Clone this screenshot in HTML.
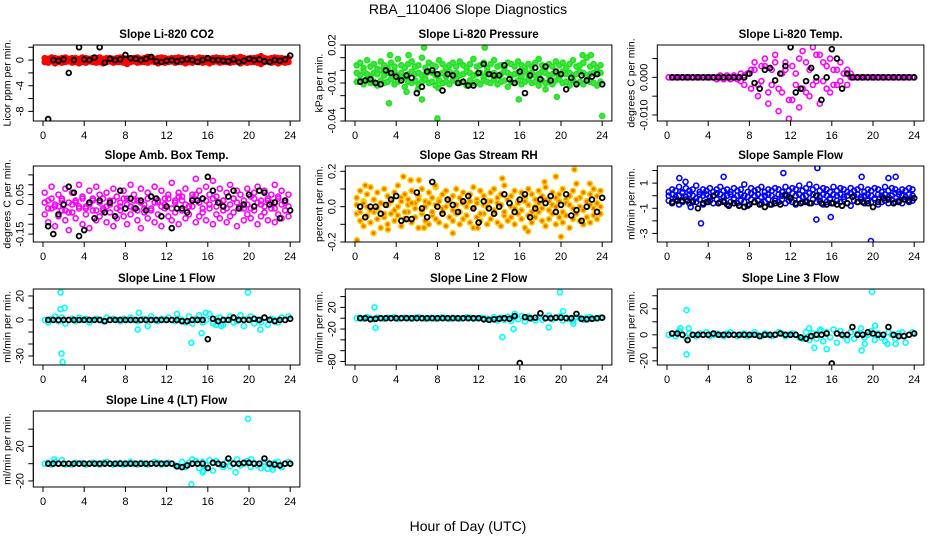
<!DOCTYPE html>
<html><head><meta charset="utf-8"><style>
html,body{margin:0;padding:0;background:#fff;}
svg{display:block;font-family:"Liberation Sans",sans-serif;}
</style></head><body>
<svg id="chart" width="936" height="540" viewBox="0 0 936 540">
<text x="468" y="14" font-size="14" text-anchor="middle">RBA_110406  Slope Diagnostics</text>
<text x="468" y="531" font-size="14" text-anchor="middle">Hour of Day (UTC)</text>
</svg>
<script>
// ---- data ----
const co2Hi=[0.3,0.2,0.4,0.3,0.2,0.3,0.4,0.2,0.3,0.3,0.2,0.4,0.3,0.2,0.3,0.3,0.4,0.2,0.3,0.3,0.2,0.3,0.4,0.3,0.2,0.3,0.3,0.4,0.2,0.3,0.5,0.3,0.2,0.3,0.4,0.3,0.2,0.3,0.3,0.4,0.3,0.2,0.3,0.3,0.2,0.4,0.3,0.3,0.2,0.3,0.4,0.3,0.3,0.2,0.3,0.4,0.3,0.5,0.3,0.2,0.3,0.3,0.4,0.6,0.3,0.2,0.3,0.4,0.3,0.3,0.2,0.3];
const co2Lo=[-0.3,-0.4,-0.2,-0.5,-0.3,-0.4,-0.3,-0.2,-0.4,-0.3,-0.5,-0.3,-0.4,-0.2,-0.3,-0.4,-0.3,-0.5,-0.3,-0.2,-0.4,-0.3,-0.3,-0.4,-0.6,-0.3,-0.2,-0.4,-0.3,-0.3,-0.4,-0.2,-0.3,-0.5,-0.3,-0.4,-0.3,-0.2,-0.4,-0.3,-0.3,-0.5,-0.3,-0.4,-0.2,-0.3,-0.4,-0.3,-0.5,-0.3,-0.2,-0.4,-0.3,-0.3,-0.4,-0.3,-0.2,-0.5,-0.3,-0.4,-0.3,-0.3,-0.4,-0.6,-0.3,-0.2,-0.4,-0.3,-0.5,-0.3,-0.4,-0.3];
const co2Black=[-9.2,0.0,-0.1,0.1,-2.0,0.0,2.0,0.1,0.0,0.4,2.0,-0.4,0.2,0.0,0.1,0.8,0.3,0.2,0.0,0.2,0.5,-0.2,-0.3,-0.1,0.0,-0.2,0.0,0.1,0.0,-0.3,0.0,0.3,0.0,0.0,-0.1,-0.2,0.1,-0.3,-0.1,0.2,0.0,0.1,-0.2,-0.3,0.0,-0.1,0.1,0.7];

const prHi=[0.004,0.006,0.002,0.008,0.003,0.005,0.001,0.007,0.004,0.002,0.006,0.003,0.009,0.004,0.002,0.005,0.007,0.003,0.004,0.010,0.002,0.006,0.004,0.003,0.008,0.005,0.002,0.004,0.006,0.003,0.007,0.004,0.002,0.005,0.009,0.003,0.004,0.006,0.002,0.005,0.008,0.003,0.004,0.002,0.006,0.005,0.003,0.007,0.004,0.002,0.005,0.003,0.006,0.009,0.004,0.002,0.005,0.003,0.007,0.004,0.006,0.002,0.005,0.008,0.003,0.004,0.006,0.010,0.003,0.005,0.002,0.004];
const prMid=[-0.002,-0.004,-0.001,-0.003,-0.005,-0.002,-0.003,0.000,-0.004,-0.002,-0.003,-0.001,-0.004,-0.002,-0.005,-0.003,-0.001,-0.003,-0.002,-0.004,-0.003,-0.001,-0.002,-0.004,-0.003,-0.002,-0.005,-0.001,-0.003,-0.002,-0.004,-0.003,-0.001,-0.002,-0.004,-0.003,-0.002,-0.005,-0.001,-0.003,-0.002,-0.004,-0.003,-0.001,-0.002,-0.004,-0.003,-0.002,-0.005,-0.001,-0.003,-0.002,-0.004,-0.003,-0.001,-0.002,-0.004,-0.003,-0.002,-0.005,-0.001,-0.003,-0.002,-0.004,-0.003,-0.001,-0.002,-0.004,-0.003,-0.002,-0.003,-0.002];
const prLo=[-0.009,-0.008,-0.011,-0.007,-0.010,-0.009,-0.012,-0.008,-0.010,-0.009,-0.007,-0.011,-0.009,-0.008,-0.013,-0.009,-0.010,-0.008,-0.011,-0.009,-0.007,-0.010,-0.009,-0.012,-0.008,-0.010,-0.009,-0.011,-0.008,-0.007,-0.010,-0.009,-0.012,-0.008,-0.010,-0.009,-0.011,-0.008,-0.009,-0.010,-0.007,-0.011,-0.009,-0.008,-0.013,-0.009,-0.010,-0.008,-0.011,-0.009,-0.007,-0.010,-0.009,-0.012,-0.008,-0.010,-0.009,-0.011,-0.008,-0.007,-0.010,-0.009,-0.012,-0.008,-0.010,-0.009,-0.011,-0.008,-0.009,-0.010,-0.012,-0.009];
const prOutT=[3.3,8.0,24.0,6.7,12.6,3.4,5.2,6.5,15.9,19.6,22.1,22.9,5.0,6.1,8.1,18.5];
const prOutV=[-0.026,-0.038,-0.036,0.018,0.018,0.012,0.012,-0.023,-0.023,-0.021,0.012,0.012,-0.017,-0.015,-0.014,-0.015];
const prBlack=[-0.009,-0.008,-0.007,-0.010,-0.011,0,-0.002,-0.005,-0.008,-0.004,-0.006,-0.018,-0.013,-0.001,0,-0.003,-0.016,-0.003,-0.004,-0.010,-0.009,-0.012,-0.012,-0.002,0.005,-0.003,-0.004,-0.004,0.004,-0.007,-0.010,-0.001,-0.018,-0.004,0.002,-0.007,0.003,-0.008,-0.001,-0.003,-0.015,-0.006,-0.011,-0.004,-0.008,-0.005,-0.003,-0.011];

const tempA=[0,0,0,0,0,0,0,0,0,0,0,0,0,0,0,0,0,0,0,0,0,0.001,0.0005,0.001,0.002,0.004,-0.002,0.003,0.005,-0.004,0.002,0.006,-0.003,0.001,0.004,-0.006,0.003,-0.002,0.005,0.007,-0.004,0.002,0.008,-0.001,0.006,0.004,-0.003,0.005,0.002,-0.002,0.004,0.001,0.002,0.001,0,0,0,0,0,0,0,0,0,0,0,0,0,0,0,0,0,0];
const tempB=[0,0,0,0,0,0,0,0,0,0,0,0,0,0,-0.0005,0.0005,-0.0005,0.0005,-0.0005,0.0005,-0.0005,-0.001,-0.002,0.001,-0.003,0.002,-0.005,-0.001,0.003,-0.007,-0.002,0.004,-0.009,-0.004,0.002,-0.011,-0.006,0.001,-0.008,-0.003,0.004,-0.005,-0.002,0.006,-0.007,-0.001,0.003,-0.004,-0.002,0.002,-0.001,0.001,-0.002,0.000,0,0,0,0,0,0,0,0,0,0,0,0,0,0,0,0,0,0];
const tempBlack=[0,0,0,0,0,0,0,0,0,0,0,0,0,0,0,0.001,-0.0015,-0.003,0.002,0.0025,-0.0008,0.001,0.003,0.008,-0.004,-0.003,-0.001,0.0025,0.000,-0.006,0.000,0.0075,0.005,-0.003,0.001,0,0,0,0,0,0,0,0,0,0,0,0,0];

const ambA=[0.06,0.02,0.09,-0.01,0.05,0.03,0.08,-0.04,0.06,0.01,0.10,0.04,-0.02,0.07,0.03,0.09,0.05,-0.03,0.06,0.02,0.08,0.04,-0.01,0.07,0.03,0.10,0.05,0.02,0.08,-0.02,0.06,0.04,0.09,0.01,0.07,0.03,0.05,0.11,0.02,0.06,0.04,0.08,-0.01,0.05,0.13,0.07,0.03,0.09,0.05,0.12,0.04,0.08,0.02,0.06,0.10,0.03,0.07,0.05,-0.02,0.08,0.04,0.06,0.09,0.02,0.07,0.03,0.05,0.10,0.04,0.07,0.02,0.05];
const ambB=[-0.05,-0.09,-0.02,-0.11,-0.06,-0.03,-0.08,-0.13,-0.04,-0.07,-0.01,-0.10,-0.05,-0.12,-0.03,-0.08,-0.06,-0.02,-0.09,-0.04,-0.11,-0.07,-0.03,-0.06,-0.10,-0.05,-0.02,-0.08,-0.12,-0.04,-0.07,-0.03,-0.09,-0.05,-0.11,-0.02,-0.06,-0.08,-0.04,-0.10,-0.03,-0.07,-0.05,-0.01,-0.09,-0.06,-0.04,-0.08,-0.02,-0.10,-0.05,-0.07,-0.03,-0.09,-0.06,-0.04,-0.11,-0.02,-0.08,-0.05,-0.07,-0.03,-0.10,-0.06,-0.04,-0.08,-0.02,-0.09,-0.05,-0.07,-0.03,-0.06];
const ambC=[0.01,-0.02,0.03,0.00,-0.01,0.02,-0.03,0.01,0.00,0.02,-0.02,0.03,-0.01,0.00,0.02,-0.03,0.01,0.03,-0.01,0.00,0.02,-0.02,0.01,0.03,0.00,-0.01,0.02,-0.03,0.01,0.00,0.03,-0.02,0.01,0.02,-0.01,0.00,0.03,-0.02,0.01,0.04,0.02,0.00,-0.01,0.03,0.05,0.01,-0.02,0.02,0.00,0.03,-0.01,0.01,0.02,-0.02,0.00,0.03,0.01,-0.01,0.02,0.00,-0.02,0.03,0.01,0.00,-0.01,0.02,0.01,-0.02,0.03,0.00,0.01,-0.01];
const ambBlack=[-0.11,-0.15,-0.05,0.00,0.09,0.06,-0.16,-0.13,0.01,-0.07,0.02,-0.04,0.01,-0.06,0.07,-0.02,0.03,-0.02,0.02,-0.03,0.04,0.03,-0.06,-0.01,-0.12,-0.02,-0.02,-0.04,0.02,0.02,0.03,0.14,0.07,0.01,-0.01,0.04,0.07,-0.02,0.00,0.05,-0.01,0.07,0.06,0.00,0.01,-0.07,0.02,-0.03];

const rhA=[0.05,0.09,0.03,0.07,0.11,0.04,0.08,0.02,0.10,0.06,0.03,0.08,0.12,0.05,0.07,0.04,0.09,0.02,0.06,0.10,0.03,0.08,0.05,0.11,0.04,0.07,0.09,0.03,0.06,0.10,0.05,0.08,0.02,0.07,0.11,0.04,0.09,0.06,0.03,0.08,0.10,0.05,0.07,0.12,0.04,0.06,0.09,0.03,0.08,0.05,0.10,0.07,0.04,0.09,0.06,0.11,0.03,0.08,0.05,0.07,0.10,0.04,0.06,0.09,0.13,0.05,0.08,0.03,0.07,0.10,0.06,0.09];
const rhB=[-0.04,-0.08,-0.11,-0.05,-0.09,-0.03,-0.07,-0.12,-0.06,-0.10,-0.04,-0.08,-0.05,-0.11,-0.07,-0.03,-0.09,-0.06,-0.12,-0.04,-0.08,-0.10,-0.05,-0.07,-0.09,-0.03,-0.11,-0.06,-0.08,-0.04,-0.10,-0.07,-0.05,-0.09,-0.12,-0.06,-0.08,-0.04,-0.10,-0.07,-0.03,-0.09,-0.11,-0.05,-0.08,-0.06,-0.10,-0.04,-0.07,-0.12,-0.05,-0.09,-0.06,-0.03,-0.08,-0.11,-0.07,-0.04,-0.10,-0.06,-0.09,-0.05,-0.12,-0.07,-0.04,-0.08,-0.10,-0.06,-0.09,-0.05,-0.07,-0.04];
const rhC=[0.01,-0.03,0.02,0.00,-0.02,0.04,-0.01,0.02,-0.04,0.01,0.03,-0.02,0.00,0.03,-0.03,0.01,0.02,-0.01,0.04,-0.02,0.00,0.02,-0.03,0.01,0.03,-0.01,0.00,0.04,-0.02,0.01,-0.03,0.02,0.00,0.03,-0.01,0.02,-0.04,0.01,0.00,0.03,-0.02,0.02,0.01,-0.03,0.04,0.00,-0.01,0.02,-0.02,0.03,0.01,-0.03,0.00,0.02,-0.01,0.04,-0.02,0.01,0.00,0.03,-0.03,0.02,0.01,-0.01,0.04,0.00,-0.02,0.03,0.01,-0.01,0.02,0.00];
const rhOutT=[0.2,1.0,1.8,4.7,5.4,6.2,6.7,7.8,9.5,14.3,16.8,18.4,19.5,20.0,21.3,22.8,3.2,11.9];
const rhOutV=[-0.19,0.12,-0.15,0.17,0.15,0.15,-0.12,0.12,-0.15,0.16,-0.14,0.14,0.17,-0.17,0.21,0.13,-0.13,-0.12];
const rhBlack=[0.00,-0.06,0.00,0.00,-0.04,0.01,0.04,0.06,-0.08,-0.07,-0.07,0.08,-0.01,-0.06,0.14,0.00,-0.04,0.04,0.01,-0.03,0.03,0.06,-0.01,-0.09,0.03,-0.01,-0.04,0.00,0.07,0.02,-0.03,0.04,0.07,-0.06,-0.01,0.04,0.02,0.06,-0.03,0.01,0.07,-0.05,-0.02,-0.08,0.00,0.04,-0.03,0.05];

const sfA=[0.3,0.5,0.4,0.7,0.3,0.6,0.4,0.5,0.8,0.3,0.5,0.4,0.6,0.3,0.5,0.7,0.4,0.5,0.3,0.6,0.4,0.5,0.9,0.3,0.6,0.4,0.5,0.7,0.3,0.5,0.4,0.6,0.5,0.3,0.7,0.4,0.6,0.5,0.8,0.4,0.6,0.9,0.5,0.7,0.4,0.6,0.5,0.3,0.7,0.4,0.6,0.5,0.3,0.6,0.4,0.5,0.7,0.3,0.5,0.4,0.6,0.5,0.3,0.7,0.4,0.6,0.5,0.3,0.5,0.4,0.6,0.5];
const sfB=[-0.4,-0.6,-0.3,-0.7,-0.5,-0.3,-0.6,-0.4,-0.5,-0.3,-0.7,-0.5,-0.4,-0.6,-0.3,-0.5,-0.4,-0.7,-0.5,-0.3,-0.6,-0.4,-0.5,-0.8,-0.3,-0.5,-0.4,-0.6,-0.5,-0.3,-0.7,-0.4,-0.5,-0.3,-0.6,-0.4,-0.5,-0.7,-0.3,-0.5,-0.4,-0.6,-0.3,-0.5,-0.4,-0.7,-0.5,-0.3,-0.6,-0.4,-0.5,-0.3,-0.6,-0.8,-0.4,-0.5,-0.3,-0.6,-0.4,-0.5,-0.3,-0.7,-0.5,-0.4,-0.6,-0.3,-0.5,-0.4,-0.6,-0.3,-0.5,-0.4];
const sfC=[0.0,0.1,-0.1,0.0,0.2,-0.1,0.1,0.0,-0.2,0.1,0.0,0.1,-0.1,0.0,0.2,0.1,-0.1,0.0,0.1,-0.2,0.0,0.1,0.0,-0.1,0.2,0.0,0.1,-0.1,0.0,0.1,0.0,-0.2,0.1,0.0,0.1,-0.1,0.2,0.0,0.1,-0.1,0.0,0.2,0.1,0.0,-0.1,0.1,0.0,-0.2,0.1,0.0,0.1,-0.1,0.0,0.2,0.0,0.1,-0.1,0.0,0.1,0.0,-0.2,0.1,0.0,0.1,-0.1,0.0,0.2,0.1,0.0,-0.1,0.1,0.0];
const sfOutT=[1.2,1.8,3.3,5.5,11.3,14.6,14.5,15.9,18.9,19.8,21.5,22.2,2.3];
const sfOutV=[1.4,1.1,-2.2,1.5,1.8,2.2,-1.9,-1.7,1.5,-3.6,1.4,1.5,-0.9];
const sfBlack=[-0.5,-0.4,-0.4,-0.4,-0.5,-1.0,-0.6,-0.5,0.0,-0.6,-0.5,-0.8,-0.6,-0.8,-0.9,-0.7,-0.5,-0.7,-0.9,-0.7,-0.6,-0.7,0.0,-0.2,-0.6,-0.6,-0.5,-0.6,0.0,-0.6,-0.7,-0.6,-0.7,-0.8,-0.6,-0.1,-0.5,-0.5,-0.6,-0.9,-0.5,-0.2,-0.3,-0.6,-0.5,-0.3,-0.4,-0.2];

const l1C=[0,-2,1,3,-1,2,-3,0,1,-1,2,0,1,-2,0,1,0,-1,2,0,1,0,-1,1,0,2,0,-1,0,1,-5,3,0,-1,1,0,2,0,-1,1,0,-2,3,-3,1,4,-2,0,5,-3,1,2,-4,0,3,-2,-1,4,-5,1,3,-3,0,-2,2,-4,1,0,-2,2,0,3];
const l1OutT=[1.7,1.8,1.9,1.7,2.1,9.2,9.3,14.4,15.4,15.8,19.9,21.1,16.8,17.3,13.0];
const l1OutV=[23,-28,-35,9,10,-8,6,-19,-11,6,23,-8,-4,-5,5];
const l1Black=[0,0,0,0,0,0,0,0,0,0,0,-1,0,0,0,0,0,0,0,0,0,0,0,0,0,0,-1,-1,0,0,0,-16,1,-1,0,0,2,0,0,0,1,0,2,0,-1,0,0,1];

const l2C=[0,1,-1,2,0,-2,1,0,-1,1,0,2,-1,0,1,0,-1,1,2,0,-1,0,1,-1,0,2,0,-1,1,0,-1,0,2,1,-1,0,1,0,-1,-3,2,-4,1,-3,3,-5,2,-2,4,-6,3,-1,-4,2,-3,1,5,-2,0,3,-4,1,-2,-5,2,0,-3,1,2,-1,0,1];
const l2OutT=[1.9,2.0,14.3,15.4,15.5,19.9,20.2,18.8,21.2];
const l2OutV=[20,-18,-35,-20,8,48,13,-17,-10];
const l2Black=[0,0,-2,-1,0,0,0,0,0,0,0,0,0,0,0,0,0,0,0,0,0,0,0,0,-2,-3,-2,-1,0,-1,4,-83,2,0,1,9,0,0,1,1,0,0,8,-1,-2,-1,0,1];

const l3C=[0,1,-1,3,0,-2,1,0,-1,1,0,2,-1,0,1,0,-1,1,2,0,-1,0,1,-1,0,2,0,-1,1,0,-1,0,2,1,-1,0,1,0,-2,-3,2,-4,1,-3,3,-5,2,-2,4,-6,3,-1,-4,2,-3,1,5,-2,0,3,-4,1,-2,-5,2,0,-3,1,2,-6,0,2];
const l3OutT=[1.9,1.9,2.1,1.3,13.8,14.3,14.9,15.5,18.9,19.2,19.9,20.2,21.4,22.2];
const l3OutV=[19,-15,5,5,5,-10,4,-11,-12,-7,33,7,-7,-7];
const l3Black=[1,1,0,-4,0,0,0,0,1,0,0,0,0,0,0,0,0,-1,0,0,0,1,0,0,0,-2,-3,-1,0,0,1,-22,1,0,0,6,0,0,2,1,0,0,6,0,-1,-1,0,1];

const l4C=[0,1,-1,2,0,4,-1,0,-1,1,0,1,-1,0,1,0,-1,1,2,0,-1,0,1,-1,0,2,0,-1,1,0,-1,0,2,1,-1,0,1,0,-2,-3,2,-4,1,5,3,-5,2,-2,4,-8,3,-1,-4,2,-3,1,5,-2,0,3,-4,1,-2,-5,2,0,-3,1,2,-4,0,2];
const l4OutT=[1.1,14.4,15.5,15.6,19.9,20.2,18.7,21.8,22.3];
const l4OutV=[5,-24,-10,-8,52,5,-10,-6,-7];
const l4Black=[0,0,0,0,0,0,0,0,0,0,0,0,0,0,0,0,0,0,0,0,0,0,0,0,0,-3,-4,-2,0,0,0,-5,1,0,-1,6,0,0,1,1,0,0,6,0,-1,-2,0,0];

const xTicks=[0,4,8,12,16,20,24];
const co2Ticks=[-8,-6,-4,-2,0,2], co2Labels=["-8","","-4","","0",""];
const prTicks=[-0.04,-0.03,-0.02,-0.01,0,0.01,0.02], prLabels=["-0.04","","","-0.01","","","0.02"];
const tempTicks=[-0.01,-0.005,0,0.005], tempLabels=["-0.010","","0.000",""];
const ambTicks=[-0.15,-0.1,-0.05,0,0.05,0.1,0.15], ambLabels=["-0.15","","","","0.05","",""];
const rhTicks=[-0.2,-0.1,0,0.1,0.2], rhLabels=["-0.2","","0.0","","0.2"];
const sfTicks=[-3,-2,-1,0,1,2], sfLabels=["-3","","-1","","1",""];
const l1Ticks=[-30,-20,-10,0,10,20], l1Labels=["-30","","","0","","20"];
const l2Ticks=[-80,-60,-40,-20,0,20,40], l2Labels=["-80","","","-20","","20",""];
const l3Ticks=[-20,-10,0,10,20,30], l3Labels=["-20","","0","","20",""];
const l4Ticks=[-20,0,20,40], l4Labels=["-20","","20",""];

const panels=[
 {name:"co2",col:0,row:0,title:"Slope Li-820 CO2",ylab:"Licor ppm per min.",ylim:[-9.5,2.35],ticks:co2Ticks,labels:co2Labels,stroke:"#ff0000",fill:"#ff0000",series:[co2Hi,co2Lo],outT:[],outV:[],black:co2Black},
 {name:"pressure",col:1,row:0,title:"Slope Li-820 Pressure",ylab:"kPa per min.",ylim:[-0.04,0.02],ticks:prTicks,labels:prLabels,stroke:"#11ee11",fill:"#66cc66",series:[prHi,prMid,prLo],outT:prOutT,outV:prOutV,black:prBlack},
 {name:"temp",col:2,row:0,title:"Slope Li-820 Temp.",ylab:"degrees C per min.",ylim:[-0.0116,0.0086],ticks:tempTicks,labels:tempLabels,stroke:"#ff00ff",fill:"none",series:[tempA,tempB],outT:[],outV:[],black:tempBlack},
 {name:"amb-temp",col:0,row:1,title:"Slope Amb. Box Temp.",ylab:"degrees C per min.",ylim:[-0.19,0.195],ticks:ambTicks,labels:ambLabels,stroke:"#ff00ff",fill:"none",series:[ambA,ambB,ambC],outT:[],outV:[],black:ambBlack},
 {name:"gas-rh",col:1,row:1,title:"Slope Gas Stream RH",ylab:"percent per min.",ylim:[-0.2,0.23],ticks:rhTicks,labels:rhLabels,stroke:"#ffcc00",fill:"#f07000",series:[rhA,rhB,rhC],outT:rhOutT,outV:rhOutV,black:rhBlack},
 {name:"sample-flow",col:2,row:1,title:"Slope Sample Flow",ylab:"ml/min per min.",ylim:[-3.68,2.36],ticks:sfTicks,labels:sfLabels,stroke:"#0000ff",fill:"none",series:[sfA,sfB,sfC],outT:sfOutT,outV:sfOutV,black:sfBlack},
 {name:"line1-flow",col:0,row:2,title:"Slope Line 1 Flow",ylab:"ml/min per min.",ylim:[-37.5,25.8],ticks:l1Ticks,labels:l1Labels,stroke:"#00ffff",fill:"none",series:[l1C],outT:l1OutT,outV:l1OutV,black:l1Black},
 {name:"line2-flow",col:1,row:2,title:"Slope Line 2 Flow",ylab:"ml/min per min.",ylim:[-86.5,54],ticks:l2Ticks,labels:l2Labels,stroke:"#00ffff",fill:"none",series:[l2C],outT:l2OutT,outV:l2OutV,black:l2Black},
 {name:"line3-flow",col:2,row:2,title:"Slope Line 3 Flow",ylab:"ml/min per min.",ylim:[-23.2,35.2],ticks:l3Ticks,labels:l3Labels,stroke:"#00ffff",fill:"none",series:[l3C],outT:l3OutT,outV:l3OutV,black:l3Black},
 {name:"line4-flow",col:0,row:3,title:"Slope Line 4 (LT) Flow",ylab:"ml/min per min.",ylim:[-27,61],ticks:l4Ticks,labels:l4Labels,stroke:"#00ffff",fill:"none",series:[l4C],outT:l4OutT,outV:l4OutV,black:l4Black}
];

const NS="http://www.w3.org/2000/svg";
const svg=document.getElementById('chart');
function mk(tag,attrs,parent){const e=document.createElementNS(NS,tag);for(const k in attrs)e.setAttribute(k,attrs[k]);(parent||svg).appendChild(e);return e;}
const rowTop=[45,166,289,411], boxH=76;

panels.forEach(p=>{
  const x0=43+312*p.col, pxPerH=10.3;
  const left=x0-9.7, right=x0+24*pxPerH+9.7;
  const top=rowTop[p.row], bottom=top+boxH;
  const xS=t=>x0+t*pxPerH;
  const yS=v=>bottom-(v-p.ylim[0])/(p.ylim[1]-p.ylim[0])*boxH;
  const g=mk('g',{});
  
  
  const clipId='clip-'+p.name;
  const cp=mk('clipPath',{id:clipId},g);
  mk('rect',{x:left,y:top,width:right-left,height:boxH},cp);
  const tt=mk('text',{x:(left+right)/2,y:top-7,'font-size':11.5,'font-weight':'bold','text-anchor':'middle'},g);
  tt.textContent=p.title;
  
  
  const pts=mk('g',{'clip-path':'url(#'+clipId+')'},g);
  
  
  p.series.forEach(arr=>{
    arr.forEach((v,i)=>{
      const t=(i+0.5)*24/arr.length;
      const c=mk('circle',{cx:xS(t),cy:yS(v),r:2.5,fill:p.fill,stroke:p.stroke,'stroke-width':1.6},pts);
      
      
    });
  });
  p.outT.forEach((t,i)=>{
    const c=mk('circle',{cx:xS(t),cy:yS(p.outV[i]),r:2.5,fill:p.fill,stroke:p.stroke,'stroke-width':1.6},pts);
    
    
  });
  p.black.forEach((v,j)=>{
    const t=(j+1)*24/p.black.length;
    const c=mk('circle',{cx:xS(t),cy:yS(v),r:2.4,fill:'none',stroke:'#000','stroke-width':1.8},pts);
    
    
  });
  const box=mk('rect',{x:left,y:top,width:right-left,height:boxH,fill:'none',stroke:'#000','stroke-width':1},g);
  
  
  const xa=mk('g',{},g);
  
  
  mk('line',{x1:xS(0),x2:xS(24),y1:bottom,y2:bottom,stroke:'#000'},xa);
  xTicks.forEach(t=>{
    mk('line',{x1:xS(t),x2:xS(t),y1:bottom,y2:bottom+5,stroke:'#000'},xa);
    const tx=mk('text',{x:xS(t),y:bottom+18,'font-size':11,'text-anchor':'middle'},xa);
    tx.textContent=t;
    
    
  });
  const ya=mk('g',{},g);
  
  
  const tk=p.ticks;
  mk('line',{x1:left,x2:left,y1:yS(tk[0]),y2:yS(tk[tk.length-1]),stroke:'#000'},ya);
  tk.forEach((v,i)=>{
    mk('line',{x1:left-5,x2:left,y1:yS(v),y2:yS(v),stroke:'#000'},ya);
    if(p.labels[i]){
      const lx=left-10, ly=yS(v);
      const tx=mk('text',{x:lx,y:ly,'font-size':11,'text-anchor':'middle',transform:'rotate(-90 '+lx+' '+ly+')'},ya);
      tx.textContent=p.labels[i];
      
      
    }
  });
  const yx=left-23, yy=(top+bottom)/2;
  const yt=mk('text',{x:yx,y:yy,'font-size':10.5,'text-anchor':'middle',transform:'rotate(-90 '+yx+' '+yy+')'},g);
  yt.textContent=p.ylab;
  
  
});
</script>
</body></html>
